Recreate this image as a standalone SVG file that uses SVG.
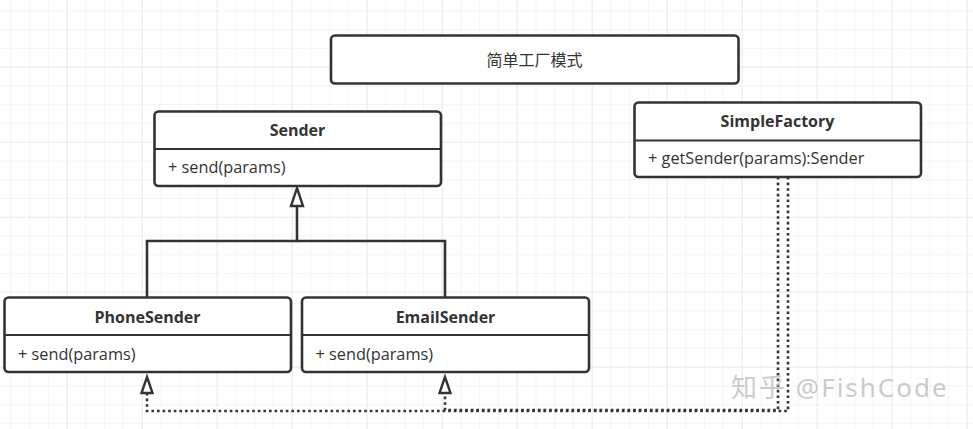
<svg xmlns="http://www.w3.org/2000/svg" width="973" height="429" viewBox="0 0 973 429">
<defs>
<pattern id="minor" x="10.42" y="10.42" width="18.75" height="18.75" patternUnits="userSpaceOnUse">
<path d="M0 0H18.75M0 0V18.75" fill="none" stroke="#ececec" stroke-width="1"/>
</pattern>
<pattern id="major" x="-8.33" y="-8.33" width="75" height="75" patternUnits="userSpaceOnUse">
<path d="M0 0H75M0 0V75" fill="none" stroke="#dedede" stroke-width="1"/>
</pattern>
</defs>
<style>
.box{fill:#fff;stroke:#333;stroke-width:2.6}
.div{stroke:#333;stroke-width:2}
.name{font-family:"Open Sans","Noto Sans",sans-serif;font-weight:bold;font-size:16px;fill:#333;text-anchor:middle}
.op{font-family:"Open Sans","Noto Sans",sans-serif;font-size:16.3px;fill:#333}
.title{font-family:"Open Sans","Noto Sans CJK SC",sans-serif;font-size:16px;fill:#333;text-anchor:middle}
.solid{fill:none;stroke:#333;stroke-width:2.6}
.dot{fill:none;stroke:#333;stroke-width:2.6;stroke-dasharray:2.6 3}
.head{fill:#fff;stroke:#333;stroke-width:2.4}
</style>
<rect width="973" height="429" fill="#fff"/>
<rect width="973" height="429" fill="url(#minor)"/>
<rect width="973" height="429" fill="url(#major)"/>

<g id="connectors">
<polyline class="solid" points="297,206 297,241 147,241 147,297"/>
<polyline class="solid" points="297,241 445,241 445,297"/>
<path class="head" d="M297 188L303 206H291Z"/>
<polyline class="dot" points="778,177 778,410 445,410 445,393"/>
<polyline class="dot" points="788,177 788,411 147,411 147,393"/>
<path class="head" d="M147 377L152.5 393H141.5Z"/>
<path class="head" d="M445 377L450.5 393H439.5Z"/>
</g>

<g id="title">
<rect class="box" x="331" y="35.5" width="407.5" height="48" rx="4"/>
<text class="title" x="534.5" y="65.5">简单工厂模式</text>
</g>

<g id="Sender">
<rect class="box" x="154.5" y="111.5" width="286.5" height="74.5" rx="4"/>
<line class="div" x1="154.5" y1="149" x2="441" y2="149"/>
<text class="name" x="297.5" y="135.5">Sender</text>
<text class="op" x="168" y="172.5">+ send(params)</text>
</g>

<g id="SimpleFactory">
<rect class="box" x="634.5" y="102.5" width="286.5" height="74.5" rx="4"/>
<line class="div" x1="634.5" y1="140.5" x2="921" y2="140.5"/>
<text class="name" x="777.5" y="126.5">SimpleFactory</text>
<text class="op" x="648" y="164">+ getSender(params):Sender</text>
</g>

<g id="PhoneSender">
<rect class="box" x="4.5" y="297.5" width="286.5" height="74.5" rx="4"/>
<line class="div" x1="4.5" y1="335" x2="291" y2="335"/>
<text class="name" x="147.5" y="322.5">PhoneSender</text>
<text class="op" x="18" y="359.5">+ send(params)</text>
</g>

<g id="EmailSender">
<rect class="box" x="302" y="297.5" width="287" height="74.5" rx="4"/>
<line class="div" x1="302" y1="335" x2="589" y2="335"/>
<text class="name" x="445.5" y="322.5">EmailSender</text>
<text class="op" x="315.5" y="359.5">+ send(params)</text>
</g>

<text x="731" y="397" font-family="'Noto Sans','Noto Sans CJK SC',sans-serif" font-size="26" letter-spacing="2" fill="#c4c4c4" fill-opacity="0.9">知乎 @FishCode</text>
</svg>
